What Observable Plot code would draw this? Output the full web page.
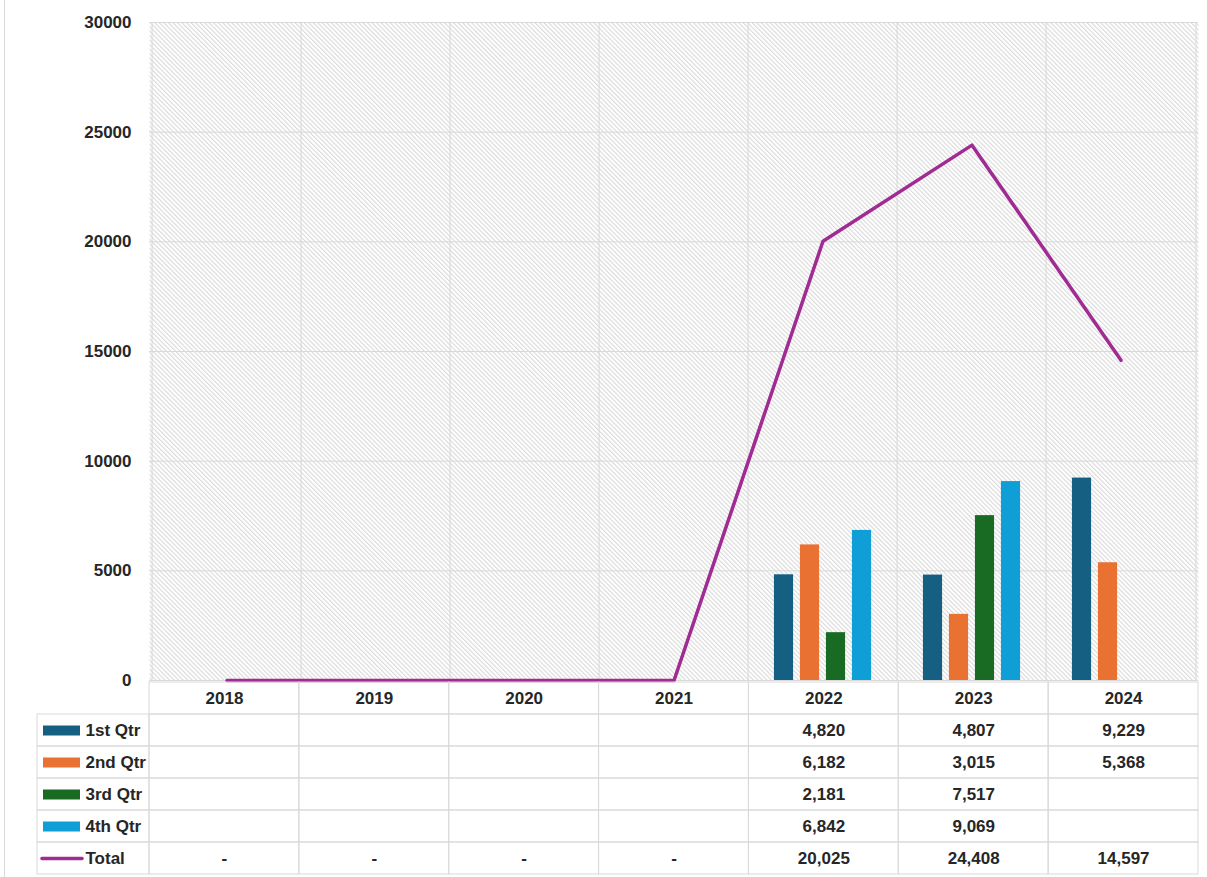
<!DOCTYPE html>
<html><head><meta charset="utf-8">
<script src="https://cdn.jsdelivr.net/npm/d3@7"></script>
<script src="https://cdn.jsdelivr.net/npm/@observablehq/plot@0.6"></script>
<style>
body{margin:0;background:#fff;}
#wrap{position:relative;width:1207px;height:877px;overflow:hidden;background:#fff;}
#wrap::before{content:"";position:absolute;left:4px;top:0;bottom:0;width:1px;background:#d9d9d9;}
#wrap svg{display:block;overflow:visible;}
</style></head><body><div id="wrap"></div>
<script>
// ---- data ----
const years = ["2018", "2019", "2020", "2021", "2022", "2023", "2024"];
const quarters = ["1st Qtr", "2nd Qtr", "3rd Qtr", "4th Qtr"];
const q1 = [null, null, null, null, 4820, 4807, 9229];
const q2 = [null, null, null, null, 6182, 3015, 5368];
const q3 = [null, null, null, null, 2181, 7517, null];
const q4 = [null, null, null, null, 6842, 9069, null];
const total = [0, 0, 0, 0, 20025, 24408, 14597];
const totalLabels = ["-", "-", "-", "-", "20,025", "24,408", "14,597"];
const yTicks = [0, 5000, 10000, 15000, 20000, 25000, 30000];
const qColors = ["#156082", "#E97132", "#196B24", "#0F9ED5"];
const totalColor = "#A02B93";

// ---- layout ----
const W = 1207, H = 877;
const frameL = 149, frameR = 1198, frameT = 22, frameB = 680, tableL = 37;
const bw = (frameR - frameL) / years.length;
const barW = 20, barStep = 26;
const font = "'Liberation Sans', Arial, sans-serif";
const grid = "#d9d9d9";
const textColor = "#262626";
const qSeries = [q1, q2, q3, q4];
const fmt = d3.format(",");

const barMarks = qSeries.map((vals, i) =>
  Plot.barY(years.map((y, j) => ({year: y, value: vals[j]})).filter(d => d.value != null), {
    x: "year", y: "value", fill: qColors[i],
    insetLeft: (bw - barW) / 2, insetRight: (bw - barW) / 2,
    dx: (i - 1.5) * barStep
  })
);

const chart = Plot.plot({
  width: W, height: frameB,
  marginLeft: frameL, marginRight: W - frameR, marginTop: frameT, marginBottom: 0,
  style: {fontFamily: font, fontSize: "17px", fontWeight: "bold", color: textColor, overflow: "visible", background: "transparent"},
  x: {domain: years, padding: 0, axis: null},
  y: {domain: [0, 30000], ticks: yTicks, tickFormat: d => String(d), tickSize: 0, tickPadding: 18, label: null},
  marks: [
    Plot.frame({fill: "url(#hatch)", stroke: "none"}),
    Plot.ruleY(yTicks, {stroke: grid, strokeWidth: 1}),
    Plot.ruleX(years, {x: d => d, dx: -bw / 2, stroke: grid}),
    Plot.ruleX([years[years.length - 1]], {x: d => d, dx: bw / 2, stroke: grid}),
    ...barMarks,
    Plot.line(years.map((y, j) => ({year: y, value: total[j]})), {
      x: "year", y: "value", stroke: totalColor, strokeWidth: 3.5, strokeLinejoin: "round", strokeLinecap: "round"
    })
  ]
});

// hatch pattern (downward diagonal)
const ns = "http://www.w3.org/2000/svg";
const defs = document.createElementNS(ns, "defs");
defs.innerHTML = `<pattern id="hatch" patternUnits="userSpaceOnUse" width="3.2" height="3.2" patternTransform="rotate(-45)">
  <rect width="3.2" height="3.2" fill="#ffffff"/>
  <rect width="1.1" height="3.2" fill="#d9d9d9"/>
</pattern>`;
chart.insertBefore(defs, chart.firstChild);

// ---- data table ----
const hc = (frameL - tableL) / bw;
const rows = [...quarters, "Total"];
const rowKeys = ["year", ...rows];
const cells = [];
years.forEach((y, i) => rowKeys.forEach(r => cells.push({row: r, x1: i, x2: i + 1})));
rows.forEach(r => cells.push({row: r, x1: -hc, x2: 0}));

const valueTexts = [];
qSeries.forEach((vals, k) => vals.forEach((v, i) => { if (v != null) valueTexts.push({row: quarters[k], x: i + 0.5, t: fmt(v)}); }));
totalLabels.forEach((t, i) => valueTexts.push({row: "Total", x: i + 0.5, t}));

const px = p => p / bw;
const table = Plot.plot({
  width: W, height: H - frameB,
  marginLeft: tableL, marginRight: W - frameR, marginTop: 0, marginBottom: 2,
  style: {fontFamily: font, fontSize: "17px", fontWeight: "bold", color: textColor, background: "transparent"},
  x: {type: "linear", domain: [-hc, years.length], axis: null},
  y: {type: "band", domain: rowKeys, padding: 0, axis: null},
  marks: [
    Plot.barX(cells, {x1: "x1", x2: "x2", y: "row", fill: "none", stroke: grid, strokeWidth: 1}),
    Plot.text(years, {x: (d, i) => i + 0.5, y: () => "year", text: d => d, fill: textColor}),
    Plot.text(valueTexts, {x: "x", y: "row", text: "t", fill: textColor}),
    ...quarters.map((q, i) => Plot.ruleY([q], {y: d => d, x1: -hc + px(6), x2: -hc + px(43), stroke: qColors[i], strokeWidth: 10})),
    Plot.ruleY(["Total"], {y: d => d, x1: -hc + px(5), x2: -hc + px(45), stroke: totalColor, strokeWidth: 3.5, strokeLinecap: "round"}),
    Plot.text(rows, {y: d => d, x: -hc, dx: 48, text: d => d, textAnchor: "start", fill: textColor})
  ]
});

const wrap = document.getElementById("wrap");
wrap.appendChild(chart);
wrap.appendChild(table);
</script>
</body></html>
